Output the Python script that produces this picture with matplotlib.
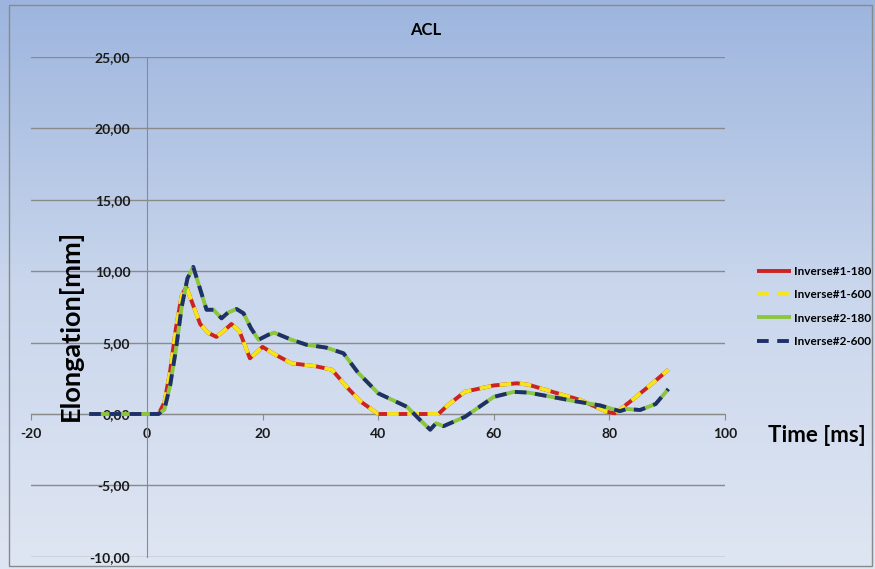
import numpy as np
import matplotlib
matplotlib.use("Agg")
import matplotlib.pyplot as plt
from matplotlib.colors import LinearSegmentedColormap
from matplotlib.patches import Rectangle

plt.rcParams['font.family'] = ['Lato', 'DejaVu Sans']

title = "ACL"
x_label = "Time [ms]"
y_label = "Elongation[mm]"
labels = ["Inverse#1-180", "Inverse#1-600", "Inverse#2-180", "Inverse#2-600"]

t1 = [-10, 2, 3, 4, 5, 6, 6.8, 8, 9.2, 10.5, 12, 13.5, 14.6, 16, 17.8, 20, 22, 25,
      29, 32, 35, 37, 40, 45, 50.4, 52, 55, 60, 64, 66, 71, 75, 79.5, 81, 84, 87, 90.2]
v1 = [0, 0, 0.8, 3.0, 6.0, 8.3, 8.9, 7.6, 6.3, 5.7, 5.4, 5.9, 6.3, 5.8, 3.9, 4.7, 4.2, 3.55,
      3.36, 3.1, 1.7, 0.86, 0, 0, 0, 0.6, 1.56, 2.0, 2.15, 2.05, 1.45, 0.98, 0.16, 0.05, 1.0, 2.0, 3.1]

t2 = [-10, 2, 3, 4, 5, 6, 7, 8, 9, 10.3, 11.5, 12.9, 14, 15.5, 16.7, 18, 19.3, 21, 22, 25,
      27.6, 31, 34, 36.5, 40, 45, 47.2, 49, 50, 51.3, 55, 60, 63.5, 66, 70, 74, 78.4, 81.8,
      83, 85.3, 88, 90.2]
v2 = [0, 0, 0.3, 2.0, 4.5, 7.5, 9.5, 10.3, 9.0, 7.3, 7.3, 6.7, 7.1, 7.35, 7.05, 6.0, 5.2, 5.55,
      5.7, 5.2, 4.85, 4.65, 4.25, 2.9, 1.45, 0.5, -0.4, -1.1, -0.65, -0.85, -0.2, 1.2, 1.55, 1.5,
      1.2, 0.9, 0.6, 0.2, 0.35, 0.28, 0.7, 1.75]

x_ticks = [-20, 0, 20, 40, 60, 80, 100]
y_ticks = [-10, -5, 0, 5, 10, 15, 20, 25]

fig = plt.figure(figsize=(8.75, 5.69), dpi=100)

# background gradient
bg = fig.add_axes([0, 0, 1, 1], zorder=-10)
cmap = LinearSegmentedColormap.from_list("bg", ["#dfe6f3", "#c9d6ec", "#9db5de"])
grad = np.linspace(0, 1, 256).reshape(-1, 1)
bg.imshow(grad, aspect='auto', cmap=cmap, origin='lower', extent=[0, 1, 0, 1])
bg.set_axis_off()
bg.add_patch(Rectangle((9/875, 3/569), 863/875, 561/569, fill=False,
                       edgecolor="#8a8a8a", lw=1, transform=bg.transAxes))

ax = fig.add_axes([31.4/875, 1-556.8/569, (725-31.4)/875, (556.8-57)/569])
ax.set_facecolor('none')

ax.plot(t1, v1, color="#cc2222", lw=2.8, solid_capstyle='butt', label=labels[0], zorder=3)
ax.plot(t1, v1, color="#f5e61a", lw=2.8, dashes=(3, 2.2), label=labels[1], zorder=4)
ax.plot(t2, v2, color="#8cc63f", lw=2.8, solid_capstyle='butt', label=labels[2], zorder=5)
ax.plot(t2, v2, color="#1f2f6b", lw=2.8, dashes=(3, 2.2), label=labels[3], zorder=6)

ax.set_xlim(-20, 100)
ax.set_ylim(-10, 25)
ax.set_xticks(x_ticks)
ax.set_yticks(y_ticks)
ax.set_yticklabels([f"{v:.2f}".replace('.', ',') for v in y_ticks])
ax.set_xticklabels([str(v) for v in x_ticks])

for s in ['top', 'right']:
    ax.spines[s].set_visible(False)
ax.spines['left'].set_position(('data', 0))
ax.spines['bottom'].set_position(('data', 0))
ax.spines['left'].set_color("#8a8a8a")
ax.spines['bottom'].set_color("#8a8a8a")
ax.grid(axis='y', color="#8a8a8a", lw=1)
ax.set_axisbelow(True)
ax.tick_params(axis='y', length=0, pad=12, labelsize=10)
ax.tick_params(axis='x', direction='out', length=4, color="#8a8a8a", pad=6, labelsize=10)
for lab in ax.get_xticklabels() + ax.get_yticklabels():
    lab.set_fontweight('bold')
    lab.set_color('#1a1a1a')

fig.text(426/875, 1-30/569, title, ha='center', va='center', fontsize=12, fontweight='bold')
fig.text(70/875, 1-325/569, y_label, ha='center', va='center', rotation=90,
         fontsize=19.5, fontweight='bold')
fig.text(817/875, 1-436/569, x_label, ha='center', va='center', fontsize=16, fontweight='bold')

leg = fig.legend(loc='upper left', bbox_to_anchor=(752/875, 1-261/569), frameon=False,
                 fontsize=8.5, handlelength=2.9, handletextpad=0.25, labelspacing=1.05,
                 borderaxespad=0)
for txt in leg.get_texts():
    txt.set_fontweight('bold')

fig.savefig("out.png", dpi=100)
